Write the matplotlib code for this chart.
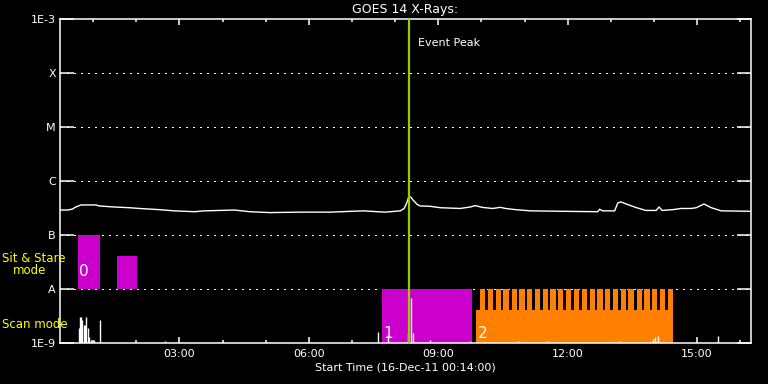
import matplotlib
matplotlib.use("Agg")
import matplotlib.pyplot as plt
from matplotlib.ticker import FixedLocator, NullFormatter

# GOES 14 long-channel flux (hours since 16-Dec-11 00:00, W/m^2)
goes_hours = [0.25, 0.40, 0.51, 0.60, 0.72, 1.07, 1.14, 1.49, 1.84, 2.07,
              2.53, 2.88, 3.35, 3.58, 4.28, 4.63, 5.09, 5.79, 6.49, 7.26,
              7.77, 8.12, 8.21, 8.28, 8.32, 8.37, 8.42, 8.51, 8.58, 8.81,
              9.05, 9.51, 9.74, 9.86, 10.02, 10.26, 10.44, 10.56, 10.79, 11.14,
              11.84, 12.70, 12.74, 12.81, 13.09, 13.16, 13.23, 13.42, 13.60, 13.81,
              14.05, 14.12, 14.19, 14.44, 14.63, 14.86, 14.98, 15.16, 15.33, 15.56,
              16.25]
goes_flux = [2.9e-7, 2.9e-7, 3.0e-7, 3.3e-7, 3.6e-7, 3.6e-7, 3.45e-7, 3.3e-7, 3.2e-7, 3.1e-7,
             2.95e-7, 2.8e-7, 2.7e-7, 2.8e-7, 2.9e-7, 2.7e-7, 2.6e-7, 2.65e-7, 2.65e-7, 2.8e-7,
             2.65e-7, 2.8e-7, 3.1e-7, 4.1e-7, 5.2e-7, 5.0e-7, 4.4e-7, 3.7e-7, 3.45e-7, 3.4e-7,
             3.2e-7, 3.1e-7, 3.3e-7, 3.5e-7, 3.25e-7, 3.1e-7, 3.25e-7, 3.1e-7, 2.95e-7, 2.8e-7,
             2.75e-7, 2.7e-7, 3.0e-7, 2.8e-7, 2.8e-7, 3.9e-7, 4.1e-7, 3.6e-7, 3.2e-7, 2.85e-7,
             2.85e-7, 3.3e-7, 2.85e-7, 2.95e-7, 3.1e-7, 3.1e-7, 3.2e-7, 3.75e-7, 3.2e-7, 2.8e-7,
             2.75e-7]

# spiky lower-panel data
spike_hours = [0.67, 0.70, 0.72, 0.74, 0.79, 0.81, 0.84, 0.88, 0.91, 0.96, 1.02, 1.16,
               2.67, 7.60, 7.84, 8.30, 8.37, 8.42, 8.81, 9.74, 10.84, 11.53, 13.21,
               13.98, 14.02, 14.09, 15.49]
spike_flux = [1.9e-9, 3.0e-9, 3.0e-9, 2.66e-9, 2.15e-9, 2.15e-9, 3.0e-9, 1.9e-9, 1.29e-9, 1.14e-9, 1.14e-9, 2.66e-9,
              1.1e-9, 1.62e-9, 1.4e-9, 1.53e-9, 6.8e-9, 1.53e-9, 1.14e-9, 1.1e-9, 1.1e-9, 1.1e-9, 1.1e-9,
              1.2e-9, 1.3e-9, 1.35e-9, 1.35e-9]

# observation blocks
sit_start = [0.652, 1.556]
sit_end = [1.162, 2.020]
sit_top = [1e-7, 4.1e-8]
scan1_start, scan1_end = 7.699, 9.785
scan2_start, scan2_end = 9.878, 14.44
scan2_base_top = 4.1e-9
raster_start = [9.97, 10.15, 10.33, 10.51, 10.70, 10.88, 11.06, 11.24, 11.42, 11.60,
                11.78, 11.96, 12.15, 12.33, 12.51, 12.69, 12.87, 13.05, 13.23, 13.41,
                13.60, 13.78, 13.96, 14.14, 14.32]
raster_width = 0.122
event_peak = 8.32

level_vals = [1e-9, 1e-8, 1e-7, 1e-6, 1e-5, 1e-4, 1e-3]
level_labels = ["1E-9", "A", "B", "C", "M", "X", "1E-3"]
xtick_hours = [3, 6, 9, 12, 15]
xtick_labels = ["03:00", "06:00", "09:00", "12:00", "15:00"]

magenta = "#cc00cc"
orange = "#ff8000"

plt.rcParams['font.family'] = ['DejaVu Sans']
fig = plt.figure(figsize=(7.68, 3.84), dpi=100, facecolor="black")
ax = fig.add_axes([60/768, 41/384, 691/768, 324/384], facecolor="black")
ax.set_yscale("log")
ax.set_xlim(0.2333, 16.25)
ax.set_ylim(1e-9, 1e-3)

# dotted level lines
for v in level_vals[1:-1]:
    ax.axhline(v, color="white", lw=0.75, ls=(0, (1, 5)), antialiased=False, zorder=1)

# bars
ax.bar(sit_start, [t - 1e-8 for t in sit_top], bottom=1e-8,
       width=[e - s for s, e in zip(sit_start, sit_end)], align="edge", color=magenta,
       antialiased=False, zorder=2)
ax.bar([scan1_start], [1e-8 - 1e-9], bottom=1e-9, width=[scan1_end - scan1_start],
       align="edge", color=magenta, antialiased=False, zorder=2)
ax.bar([scan2_start], [scan2_base_top - 1e-9], bottom=1e-9, width=[scan2_end - scan2_start],
       align="edge", color=orange, antialiased=False, zorder=2)
ax.bar(raster_start, [1e-8 - 1e-9] * len(raster_start), bottom=1e-9, width=raster_width,
       align="edge", color=orange, antialiased=False, zorder=2)

# curves
ax.plot(goes_hours, goes_flux, color="white", lw=1, zorder=3)
ax.vlines(spike_hours, 1e-9, spike_flux, color="white", lw=1, zorder=3)
ax.axvline(event_peak, color="#99cc00", lw=1.6, zorder=4)
ax.text(event_peak + 0.21, 3.6e-4, "Event Peak", color="white", fontsize=8, va="center")

ax.text(sit_start[0] + 0.03, 2.07e-8, "0", color="white", fontsize=11, va="center")
ax.text(scan1_start + 0.03, 1.5e-9, "1", color="white", fontsize=11, va="center")
ax.text(scan2_start + 0.03, 1.5e-9, "2", color="white", fontsize=11, va="center")

# axes styling
for sp in ax.spines.values():
    sp.set_color("white")
    sp.set_linewidth(1.1)
ax.yaxis.set_major_locator(FixedLocator(level_vals))
ax.set_yticklabels(level_labels)
ax.yaxis.set_minor_locator(FixedLocator([]))
ax.yaxis.set_minor_formatter(NullFormatter())
ax.tick_params(axis="y", which="major", direction="in", length=10, width=1.1,
               colors="white", labelsize=8, pad=3, left=True, right=True)
ax.set_xticks(xtick_hours)
ax.set_xticklabels(xtick_labels)
ax.xaxis.set_minor_locator(FixedLocator(range(1, 17)))
ax.tick_params(axis="x", which="major", direction="in", length=4.5, width=1.1,
               colors="white", labelsize=8, pad=4, top=True, bottom=True)
ax.tick_params(axis="x", which="minor", direction="in", length=2.5, width=1.1,
               colors="white", top=True, bottom=True)

ax.set_title("GOES 14 X-Rays:", color="white", fontsize=9, pad=4)
ax.set_xlabel("Start Time (16-Dec-11 00:14:00)", color="white", fontsize=8, labelpad=3)

fig.text(2/768, 1 - 259/384, "Sit & Stare", color="yellow", fontsize=8.5, va="center", ha="left")
fig.text(13/768, 1 - 271/384, "mode", color="yellow", fontsize=8.5, va="center", ha="left")
fig.text(2/768, 1 - 324/384, "Scan mode", color="yellow", fontsize=8.5, va="center", ha="left")

fig.savefig("out.png", dpi=100, facecolor="black")
